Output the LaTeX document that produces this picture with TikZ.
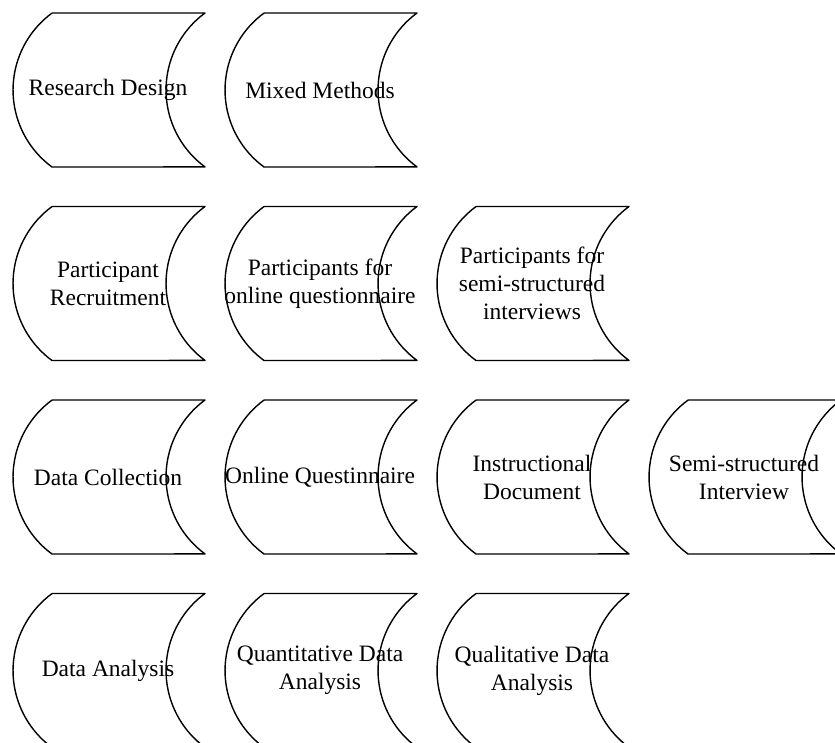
\documentclass[tikz,border=0pt]{standalone}
\usepackage{fontspec}
\setmainfont{Liberation Serif}
\tikzset{
  boxtext/.style={align=center, inner sep=0pt,
    font=\fontsize{23.5}{28}\selectfont},
  stored/.pic={
    \draw[line width=1.4pt, line join=round] (39,0) -- (192,0)
      arc[start angle=126.3, end angle=233.7, radius=95.5pt]
      -- (39,-154)
      arc[start angle=233.7, end angle=126.3, radius=95.5pt] -- cycle;
    \node[boxtext] (-txt) at (95,-77) {#1};
  }
}
\begin{document}
\begin{tikzpicture}[x=1pt,y=1pt]
  \useasboundingbox[clip] (0,0) rectangle (835,-742);
  % row 1
  \pic (design) at (13,-13) {stored={Research Design}};
  \pic (mixed) at (225,-13) {stored={Mixed Methods}};
  % row 2
  \pic (recruit) at (13,-206.5) {stored={Participant\\Recruitment}};
  \pic (partq) at (225,-206.5) {stored={Participants for\\online questionnaire}};
  \pic (parti) at (437,-206.5) {stored={Participants for\\semi-structured\\interviews}};
  % row 3
  \pic (collect) at (13,-400) {stored={Data Collection}};
  \pic (quest) at (225,-400) {stored={Online Questinnaire}};
  \pic (instr) at (437,-400) {stored={Instructional\\Document}};
  \pic (interv) at (649,-400) {stored={Semi-structured\\Interview}};
  % row 4
  \pic (analysis) at (13,-593.5) {stored={Data Analysis}};
  \pic (quant) at (225,-593.5) {stored={Quantitative Data\\Analysis}};
  \pic (qual) at (437,-593.5) {stored={Qualitative Data\\Analysis}};
\end{tikzpicture}
\end{document}
